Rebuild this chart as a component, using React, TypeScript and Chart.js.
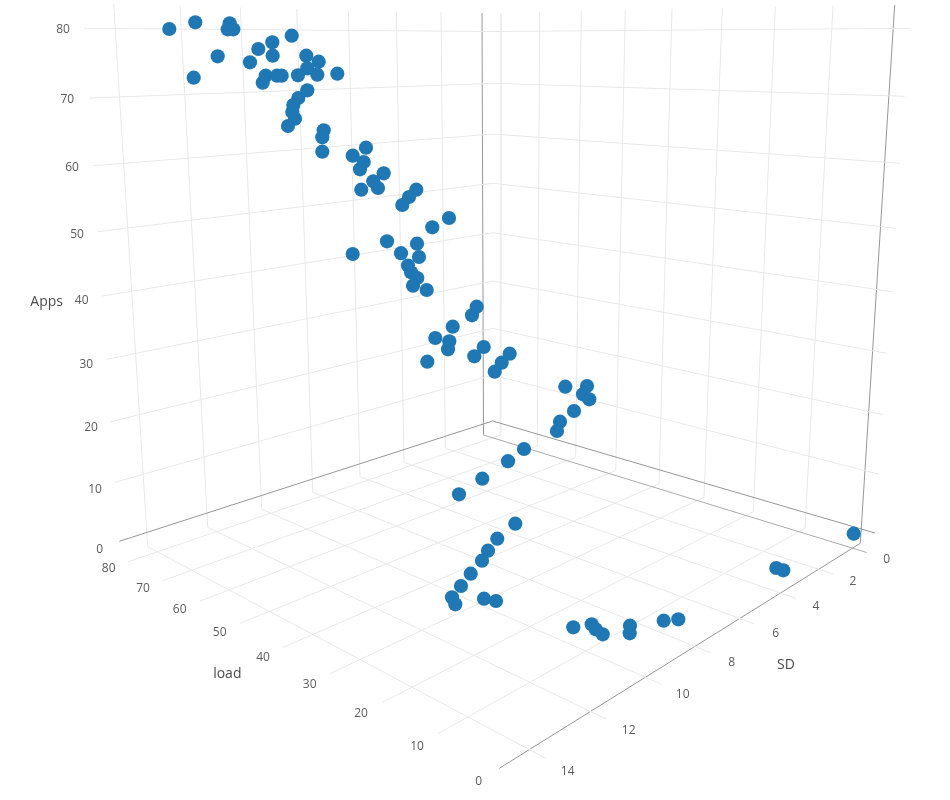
import React, { useEffect, useRef } from "react";
import { Chart, registerables } from "chart.js";

Chart.register(...registerables);

const projectedX = [169.3,195.3,229.7,227.7,233.3,193.7,217.7,250,258.3,272.3,272.7,291.7,306.3,318.7,307.3,298,317.3,337.3,265.7,262.7,277,281.7,307.3,298.3,293.3,292.3,295,288,323.7,322.3,322.3,352.7,366,363.7,360,383.7,373.3,378,361.3,416.3,409,402.3,449,432.3,387,417,401,419,352.7,408,411,417.3,413,426.7,476.7,472,452.7,435.3,449.3,448,427.3,483.7,474.3,509.7,501.7,494.7,565.3,587,583,589.3,574,560,557,524,508,482.3,459,515.3,497.3,488,482,470.7,461,452,455.3,484,496,573.3,591.7,595.7,602.7,630,629.7,663.7,678.3,776.3,783.3,853.7];
const projectedY = [29,22.3,23.3,29.3,29.3,77.7,56.3,62.3,49,42.3,55.7,35.7,55.7,61.7,68.3,75.3,74.7,73.7,75.7,82.7,75.7,75.7,90.3,98,105,112,118.7,126,130.3,137.3,151.7,155.7,147.7,162,169.3,173.3,181.3,188,189.7,189.7,197,205,218,227.3,241.3,243.7,253.2,257,254,265.5,272.3,278,285.7,290,306.7,315.3,326.7,338,341.3,349.3,361.7,347,356.3,353.7,362.7,371.7,386.7,386,394.3,399.3,411,421.7,430.9,449,461.2,478.7,494.3,523.7,538.7,550.7,560.7,573.7,586,597.3,604.3,598.7,601,627.3,624.3,629.3,634.3,625.7,633.3,620.7,619.3,568,570.3,533.7];

// Tick labels
const appsTicks = ["0","10","20","30","40","50","60","70","80"];
const loadTicks = ["0","10","20","30","40","50","60","70","80"];
const sdTicks = ["0","2","4","6","8","10","12","14"];

// Where each tick label sits on the projected plane
const appsLabelX = [99.7,95,91,86.3,81.7,77,72,67.3,63];
const appsLabelY = [549.3,489.3,427.7,365,301,235,167.7,99.7,29.3];
const loadLabelX = [478.7,417,361,309.7,263,219.7,179.7,143,108.7];
const loadLabelY = [782,746.3,714,684.7,657.7,632.7,610,588.7,569];
const sdLabelX = [886.7,853,816,775.7,731.7,682.7,628.7,567.7];
const sdLabelY = [559.7,582,606.7,633.3,662.7,694.7,731,771.3];

// Apps gridlines on the two back walls: left end, fold, right end
const appsLeftX = [119.3,115,110.7,106.7,102.3,97.7,93.3,89.3,84.3];
const appsLeftY = [541.3,482.3,421.7,359.3,296,231.7,165.7,98,28.3];
const appsFoldX = [492.7,492.7,492.7,492.7,492.7,492.7,492.7,492.7,492.7];
const appsFoldY = [421,375,328.3,281,232.7,183.3,134,83.3,31.5];
const appsRightX = [875,879.3,882.7,886.7,891.7,895.7,899.7,904.7,909];
const appsRightY = [533,474.3,414.7,353.3,291.7,228.3,163.3,96.3,28.3];

// SD gridlines: top of left wall, wall foot, tick end on the floor
const sdTopX = [482,441,396.3,348.3,296.7,240.3,180,113.7];
const sdTopY = [13,12.3,11.3,10.3,9,7.3,6,4.3];
const sdFootX = [483.5,445.3,404,360,312.7,261.7,207.7,147.7];
const sdFootY = [435,448.3,462.3,476.7,492.3,509.3,527.3,546.7];
const sdEndX = [866.7,833.3,795.7,754.3,710.7,661.7,606.7,545.7];
const sdEndY = [552.5,574,598.3,624,652.7,684.3,719.3,758.3];

// Load gridlines: top of right wall, wall foot, tick end on the floor
const loadTopX = [894.7,833,775.3,722.3,672,625.3,581.3,539.7,501];
const loadTopY = [5,6,7,8,9,10,11.3,12,12.7];
const loadFootX = [860.3,805,753.3,704,659,615.7,575.7,537.3,500.7];
const loadFootY = [543.3,528.3,511.7,497.3,484,470.7,457.3,446,435];
const loadEndX = [499.3,438,382.7,330,283.3,240,200,162.7,128.3];
const loadEndY = [768.3,733.7,702.3,673.7,647.3,623.3,601,580.7,561.7];

const GRID = "rgb(232,232,232)";
const ZERO = "rgb(150,150,150)";
const TICK_COLOR = "#5a5a5a";
const FONT = '"Open Sans"';

type P = { x: number; y: number };

function line(points: P[], color: string, width = 1) {
  return {
    type: "scatter" as const,
    data: points,
    showLine: true,
    pointRadius: 0,
    borderColor: color,
    borderWidth: width,
    order: 2,
    tension: 0,
  };
}

function gridDatasets() {
  const out: any[] = [];
  appsTicks.forEach((_, i) => {
    out.push(
      line(
        [
          { x: appsLeftX[i], y: appsLeftY[i] },
          { x: appsFoldX[i], y: appsFoldY[i] },
          { x: appsRightX[i], y: appsRightY[i] },
        ],
        i === 0 ? ZERO : GRID
      )
    );
  });
  sdTicks.forEach((_, i) => {
    out.push(line([{ x: sdTopX[i], y: sdTopY[i] }, { x: sdFootX[i], y: sdFootY[i] }], i === 0 ? ZERO : GRID));
    out.push(line([{ x: sdFootX[i], y: sdFootY[i] }, { x: sdEndX[i], y: sdEndY[i] }], i === 0 ? "rgb(170,170,170)" : GRID));
  });
  loadTicks.forEach((_, i) => {
    out.push(
      line(
        [{ x: loadTopX[i], y: loadTopY[i] }, { x: loadFootX[i], y: loadFootY[i] }],
        i === 0 ? ZERO : i === 8 ? "rgb(238,238,238)" : GRID,
        i === 8 ? 2 : 1
      )
    );
    out.push(line([{ x: loadFootX[i], y: loadFootY[i] }, { x: loadEndX[i], y: loadEndY[i] }], i === 0 ? ZERO : GRID));
  });
  return out;
}

const axisText = {
  id: "axisText",
  afterDatasetsDraw(chart: any) {
    const { ctx, scales } = chart;
    const put = (text: string, x: number, y: number, size: number, color: string) => {
      ctx.font = `${size}px ${FONT}`;
      ctx.fillStyle = color;
      ctx.fillText(text, scales.x.getPixelForValue(x), scales.y.getPixelForValue(y));
    };
    ctx.save();
    ctx.textAlign = "center";
    ctx.textBaseline = "middle";
    appsTicks.forEach((t, i) => put(t, appsLabelX[i], appsLabelY[i], 12, TICK_COLOR));
    loadTicks.forEach((t, i) => put(t, loadLabelX[i], loadLabelY[i], 12, TICK_COLOR));
    sdTicks.forEach((t, i) => put(t, sdLabelX[i], sdLabelY[i], 12, TICK_COLOR));
    put("Apps", 46.7, 302.3, 14, "#4a4a4a");
    put("load", 227.3, 673.7, 14, "#4a4a4a");
    put("SD", 786, 665.3, 14, "#4a4a4a");
    ctx.restore();
  },
};

export default function App() {
  const ref = useRef<HTMLCanvasElement>(null);
  useEffect(() => {
    if (!ref.current) return;
    const chart = new Chart(ref.current, {
      type: "scatter",
      data: {
        datasets: [
          {
            data: projectedX.map((x, i) => ({ x, y: projectedY[i] })),
            backgroundColor: "#1f77b4",
            borderWidth: 0,
            pointRadius: 7.1,
            order: 1,
          },
          ...gridDatasets(),
        ],
      },
      options: {
        animation: false,
        responsive: false,
        layout: { padding: 0, autoPadding: false },
        plugins: { legend: { display: false }, tooltip: { enabled: false } },
        scales: {
          x: { type: "linear", display: false, min: 0, max: 950 },
          y: { type: "linear", display: false, min: 0, max: 800, reverse: true },
        },
      },
      plugins: [axisText],
    } as any);
    return () => chart.destroy();
  }, []);
  return (
    <div style={{ position: "absolute", left: 0, top: 0, width: 950, height: 800 }}>
      <canvas ref={ref} width={950} height={800} style={{ display: "block" }} />
    </div>
  );
}
